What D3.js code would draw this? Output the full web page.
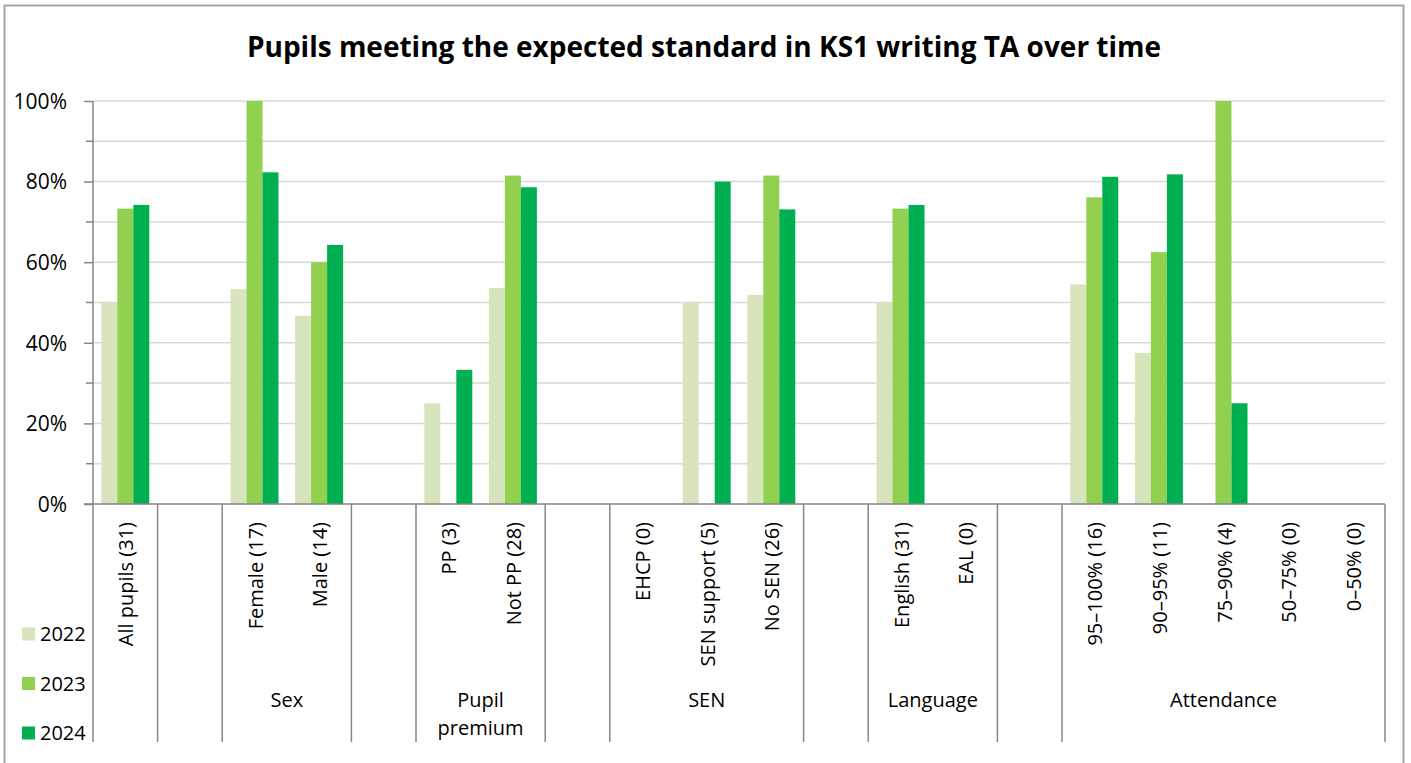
<!DOCTYPE html>
<html>
<head>
<meta charset="utf-8">
<script src="https://cdn.jsdelivr.net/npm/d3@7"></script>
<style>
  body { margin: 0; background: #fff; }
  svg text { font-family: "Segoe UI", "Open Sans", "Noto Sans", sans-serif; fill: #000; }
</style>
</head>
<body>
<svg id="chart" width="1411" height="763"></svg>
<script>
// slots along the category axis, "" = empty spacer column
const categories = ["All pupils (31)", "", "Female (17)", "Male (14)", "", "PP (3)", "Not PP (28)", "",
    "EHCP (0)", "SEN support (5)", "No SEN (26)", "", "English (31)", "EAL (0)", "",
    "95–100% (16)", "90–95% (11)", "75–90% (4)", "50–75% (0)", "0–50% (0)"]
const years = ["2022", "2023", "2024"]
const values2022 = [50, null, 53.3, 46.7, null, 25, 53.6, null, 0, 50, 51.9, null, 50, 0, null, 54.5, 37.5, 0, 0, 0]
const values2023 = [73.3, null, 100, 60, null, 0, 81.5, null, 0, 0, 81.5, null, 73.3, 0, null, 76.1, 62.5, 100, 0, 0]
const values2024 = [74.2, null, 82.3, 64.3, null, 33.3, 78.6, null, 0, 80, 73.1, null, 74.2, 0, null, 81.2, 81.8, 25, 0, 0]
// top level groups: label lines, first slot, last slot
const groups = [
    {label: ["Sex"], from: 2, to: 3},
    {label: ["Pupil", "premium"], from: 5, to: 6},
    {label: ["SEN"], from: 8, to: 10},
    {label: ["Language"], from: 12, to: 13},
    {label: ["Attendance"], from: 15, to: 19}
]
// slot boundaries where the axis lines run down through the labels
const dividers = [0, 1, 2, 4, 5, 7, 8, 11, 12, 14, 15, 20]
const yTicks = [0, 20, 40, 60, 80, 100]
const colors = ["#d8e4bc", "#92d050", "#00b050"]

const svg = d3.select("#chart")
const margin = {top: 101, left: 93, right: 26, bottom: 259}
const width = 1411 - margin.left - margin.right
const height = 763 - margin.top - margin.bottom

const series = [values2022, values2023, values2024]

// outer chart border
svg.append("rect")
    .attr("x", 4.5).attr("y", 5.5)
    .attr("width", 1399).attr("height", 770)
    .attr("fill", "none").attr("stroke", "#a6a6a6").attr("stroke-width", 2)

svg.append("text")
    .attr("x", 704).attr("y", 57)
    .attr("text-anchor", "middle")
    .attr("font-size", 28).attr("font-weight", "bold")
    .text("Pupils meeting the expected standard in KS1 writing TA over time")

const g = svg.append("g").attr("transform", "translate(" + margin.left + "," + margin.top + ")")

const x = d3.scaleBand().domain(d3.range(categories.length)).range([0, width])
const x1 = d3.scaleBand().domain(years).range([8.3, x.bandwidth() - 8.3])
const y = d3.scaleLinear().domain([0, 100]).range([height, 0])

// gridlines every 10%
g.selectAll(".grid")
    .data(d3.range(10, 101, 10))
    .enter().append("line")
    .attr("class", "grid")
    .attr("x1", 0).attr("x2", width)
    .attr("y1", d => y(d)).attr("y2", d => y(d))
    .attr("stroke", "#d9d9d9").attr("stroke-width", 1.5)

// bars
years.forEach((yr, i) => {
    g.selectAll(".bar" + yr)
        .data(series[i].map((v, k) => ({k: k, v: v})).filter(d => d.v))
        .enter().append("rect")
        .attr("class", "bar" + yr)
        .attr("x", d => x(d.k) + x1(yr))
        .attr("y", d => y(d.v))
        .attr("width", x1.bandwidth())
        .attr("height", d => height - y(d.v))
        .attr("fill", colors[i])
})

// y axis
const axisY = d3.axisLeft(y).tickValues(yTicks).tickFormat(d => d + "%").tickSize(9).tickPadding(17)
const yAxis = g.append("g").call(axisY)
yAxis.select(".domain").remove()
yAxis.selectAll("line").attr("stroke", "#868686").attr("stroke-width", 1.5)
yAxis.selectAll("text").attr("font-size", 21).attr("dy", "0.35em")
g.selectAll(".minor")
    .data(d3.range(10, 100, 20))
    .enter().append("line")
    .attr("x1", -7).attr("x2", 0)
    .attr("y1", d => y(d)).attr("y2", d => y(d))
    .attr("stroke", "#868686").attr("stroke-width", 1.5)
g.append("line")
    .attr("x1", 0).attr("x2", 0).attr("y1", 0).attr("y2", height)
    .attr("stroke", "#868686").attr("stroke-width", 1.5)

// category axis
const axisLen = 238
g.append("line")
    .attr("x1", -9).attr("x2", width).attr("y1", height).attr("y2", height)
    .attr("stroke", "#868686").attr("stroke-width", 1.5)
g.selectAll(".divider")
    .data(dividers)
    .enter().append("line")
    .attr("x1", d => d * x.step()).attr("x2", d => d * x.step())
    .attr("y1", height).attr("y2", height + axisLen)
    .attr("stroke", "#868686").attr("stroke-width", 1.5)

g.selectAll(".cat")
    .data(categories.map((c, k) => ({c: c, k: k})).filter(d => d.c))
    .enter().append("text")
    .attr("transform", d => "translate(" + (x(d.k) + x.bandwidth() / 2 + 1) + "," + (height + 18) + ") rotate(-90)")
    .attr("text-anchor", "end")
    .attr("dy", "0.35em")
    .attr("font-size", 20)
    .text(d => d.c)

const grp = g.selectAll(".group")
    .data(groups)
    .enter().append("text")
    .attr("text-anchor", "middle")
    .attr("font-size", 20)
    .attr("x", d => (x(d.from) + x(d.to) + x.bandwidth()) / 2)
    .attr("y", height + 203)
grp.selectAll("tspan")
    .data(d => d.label)
    .enter().append("tspan")
    .attr("x", function () { return d3.select(this.parentNode).attr("x") })
    .attr("dy", (d, i) => i ? 28 : 0)
    .text(d => d)

// legend
const legend = svg.append("g")
years.forEach((yr, i) => {
    const ly = 634 + i * 49.5
    legend.append("rect")
        .attr("x", 22).attr("y", ly - 6.5).attr("width", 13).attr("height", 13)
        .attr("fill", colors[i])
    legend.append("text")
        .attr("x", 40).attr("y", ly).attr("dy", "0.35em")
        .attr("font-size", 20)
        .text(yr)
})
</script>
</body>
</html>
